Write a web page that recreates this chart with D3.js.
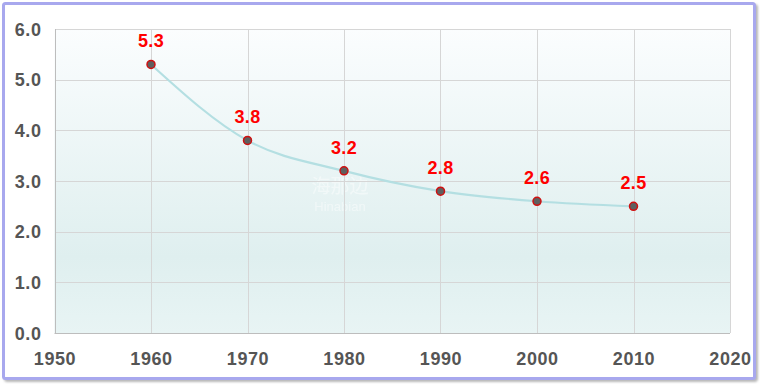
<!DOCTYPE html>
<html><head><meta charset="utf-8">
<script src="https://cdn.jsdelivr.net/npm/d3@7"></script>
<style>html,body{margin:0;padding:0;background:#fff;}svg{display:block;}</style>
</head><body>
<svg id="c" width="761" height="384"></svg>
<script>
const years = [1960, 1970, 1980, 1990, 2000, 2010];
const values = [5.3, 3.8, 3.2, 2.8, 2.6, 2.5];
const xTicks = [1950, 1960, 1970, 1980, 1990, 2000, 2010, 2020];
const yTicks = [0, 1, 2, 3, 4, 5, 6];

const svg = d3.select("#c");
const m = {l: 54.5, r: 730, t: 29, b: 333};
const x = d3.scaleLinear().domain([1950, 2020]).range([m.l, m.r]);
const y = d3.scaleLinear().domain([0, 6]).range([m.b, m.t]);

const defs = svg.append("defs");
const g1 = defs.append("linearGradient").attr("id", "bg").attr("x1", 0).attr("y1", 0).attr("x2", 0).attr("y2", 1);
g1.append("stop").attr("offset", "0%").attr("stop-color", "#fbfdfe");
g1.append("stop").attr("offset", "75%").attr("stop-color", "#dfefef");
g1.append("stop").attr("offset", "100%").attr("stop-color", "#e8f4f4");
const sh = defs.append("filter").attr("id", "sh").attr("x", "-5%").attr("y", "-5%").attr("width", "110%").attr("height", "110%");
sh.append("feDropShadow").attr("dx", 2).attr("dy", 2).attr("stdDeviation", 1.2).attr("flood-color", "#888").attr("flood-opacity", 0.6);

// outer frame
svg.append("rect").attr("x", 3.5).attr("y", 3.5).attr("width", 751).attr("height", 375)
  .attr("rx", 2).attr("fill", "#fff").attr("stroke", "#a8a8ee").attr("stroke-width", 3).attr("filter", "url(#sh)");

// plot background
svg.append("rect").attr("x", m.l).attr("y", m.t).attr("width", m.r - m.l).attr("height", m.b - m.t)
  .attr("fill", "url(#bg)");

// watermark
svg.append("text").attr("x", 340).attr("y", 193).attr("text-anchor", "middle")
  .attr("font-family", "Noto Sans CJK SC, sans-serif").attr("font-size", 19)
  .attr("fill", "#fff").attr("opacity", 0.45).text("海那边");
svg.append("text").attr("x", 340).attr("y", 211).attr("text-anchor", "middle")
  .attr("font-family", "Arial, Liberation Sans, sans-serif").attr("font-size", 13)
  .attr("fill", "#fff").attr("opacity", 0.45).text("Hinabian");

// grid
const grid = svg.append("g").attr("stroke", "#d6d6d6").attr("stroke-width", 1).attr("shape-rendering", "crispEdges");
grid.selectAll(".gy").data(yTicks).join("line")
  .attr("x1", m.l).attr("x2", m.r).attr("y1", d => Math.round(y(d)) + 0.5).attr("y2", d => Math.round(y(d)) + 0.5);
grid.selectAll(".gx").data(xTicks).join("line")
  .attr("y1", m.t).attr("y2", m.b).attr("x1", d => Math.round(x(d)) + 0.5).attr("x2", d => Math.round(x(d)) + 0.5);
// axis lines
svg.append("line").attr("x1", Math.round(m.l) + 0.5).attr("x2", Math.round(m.l) + 0.5).attr("y1", m.t).attr("y2", m.b + 0.5)
  .attr("stroke", "#bdbdbd");
svg.append("line").attr("x1", m.l).attr("x2", m.r).attr("y1", m.b + 0.5).attr("y2", m.b + 0.5).attr("stroke", "#bdbdbd");

// axes labels
const yAxis = d3.axisLeft(y).tickValues(yTicks).tickFormat(d3.format(".1f")).tickSize(0).tickPadding(13);
const ya = svg.append("g").attr("transform", `translate(${m.l},0)`).call(yAxis);
const xAxis = d3.axisBottom(x).tickValues(xTicks).tickFormat(d3.format("d")).tickSize(0).tickPadding(0);
const xa = svg.append("g").attr("transform", `translate(0,${m.b})`).call(xAxis);
[ya, xa].forEach(a => {
  a.select(".domain").remove();
  a.selectAll("text").attr("font-family", "Arial, Liberation Sans, sans-serif").attr("font-size", 18)
    .attr("font-weight", "bold").attr("fill", "#555").attr("letter-spacing", 0.6);
});
ya.selectAll("text").attr("dy", "0.35em");
xa.selectAll("text").attr("y", 32).attr("dy", 0);

// line
const data = years.map((yr, i) => ({yr, v: values[i]}));
const line = d3.line().x(d => x(d.yr)).y(d => y(d.v)).curve(d3.curveMonotoneX);
svg.append("path").datum(data).attr("d", line).attr("fill", "none")
  .attr("stroke", "#b4dfe2").attr("stroke-width", 2.2);

// points
svg.selectAll(".pt").data(data).join("circle")
  .attr("cx", d => x(d.yr)).attr("cy", d => y(d.v)).attr("r", 4)
  .attr("fill", "#5f5f5f").attr("stroke", "#d01010").attr("stroke-width", 1.5);

// labels
svg.selectAll(".lb").data(data).join("text")
  .attr("x", d => x(d.yr)).attr("y", d => y(d.v) - 17).attr("text-anchor", "middle")
  .attr("font-family", "Arial, Liberation Sans, sans-serif").attr("font-size", 18).attr("font-weight", "bold")
  .attr("letter-spacing", 0.4).attr("fill", "#ff0000").text(d => d.v.toFixed(1));
</script>
</body></html>
